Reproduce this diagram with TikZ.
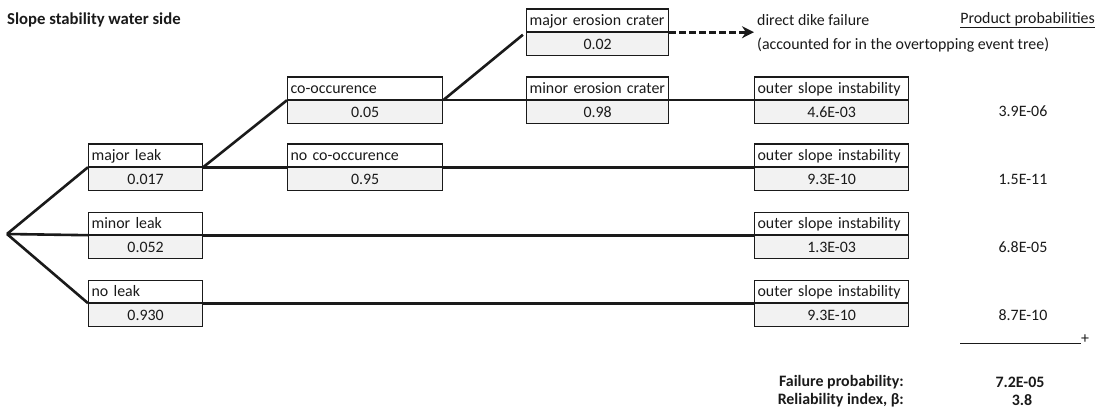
\documentclass[tikz,border=0pt]{standalone}
\usepackage{fontspec}
\setmainfont{Carlito}
\usetikzlibrary{arrows.meta}
\definecolor{cellgray}{HTML}{F2F2F2}
\definecolor{ink}{HTML}{1A1A1A}
\tikzset{
  txt/.style={font=\fontsize{15.9}{19}\selectfont, inner sep=0pt, text=ink},
  toprow/.style={txt, draw=ink, line width=1.2pt, fill=white, anchor=north west,
    minimum height=22.5pt, inner xsep=3pt, inner ysep=0pt, align=left,
    text height=12pt, text depth=2pt},
  botrow/.style={txt, draw=ink, line width=1.2pt, fill=cellgray, anchor=north west,
    minimum height=22.5pt, inner xsep=3pt, inner ysep=0pt, align=center,
    text height=12pt, text depth=2pt},
  branch/.style={draw=ink, line width=2.6pt},
  dasharrow/.style={draw=ink, line width=3pt, dash pattern=on 7pt off 3pt,
    -{Stealth[length=12pt,width=12pt]}},
  prob/.style={txt},
  boldtxt/.style={txt, font=\fontsize{15.9}{19}\selectfont\bfseries},
}
\newcommand\evbox[6]{%
  \node[toprow, text width=#4] (#1-t) at (#2,#3) {#5};
  \node[botrow, text width=#4] (#1) at (#1-t.south west) {#6};
}
\begin{document}
\begin{tikzpicture}[x=1pt,y=-1pt]
\useasboundingbox[fill=white] (0,0) rectangle (1103,417);

\node[boldtxt, font=\fontsize{16.7}{20}\selectfont\bfseries, anchor=west] (title) at (7,20) {Slope stability water side};

% boxes
\evbox{majorleak}{88}{143.5}{108pt}{major leak}{0.017}
\evbox{minorleak}{88}{211.5}{108pt}{minor leak}{0.052}
\evbox{noleak}{88}{279.5}{108pt}{no leak}{0.930}
\evbox{cooc}{287}{76.5}{149pt}{co-occurence}{0.05}
\evbox{nocooc}{287}{143.5}{149pt}{no co-occurence}{0.95}
\evbox{majero}{526}{8.5}{136pt}{major erosion crater}{0.02}
\evbox{minero}{526}{76.5}{136pt}{minor erosion crater}{0.98}
\evbox{osa}{754}{76.5}{148pt}{outer slope instability}{4.6E-03}
\evbox{osb}{754}{143.5}{148pt}{outer slope instability}{9.3E-10}
\evbox{osc}{754}{211.5}{148pt}{outer slope instability}{1.3E-03}
\evbox{osd}{754}{279.5}{148pt}{outer slope instability}{9.3E-10}

\coordinate (root) at (7,234);

% branches
\draw[branch] (root) -- (majorleak-t.south west);
\draw[branch] (root) -- (minorleak-t.south west);
\draw[branch] (root) -- (noleak-t.south west);
\draw[branch] (majorleak-t.south east) -- (cooc-t.south west);
\draw[branch] (majorleak-t.south east) -- (nocooc-t.south west);
\draw[branch, shorten >=4pt] (cooc-t.south east) -- (majero-t.south west);
\draw[branch] (cooc-t.south east) -- (minero-t.south west);
\draw[branch] (minero-t.south east) -- (osa-t.south west);
\draw[branch] (nocooc-t.south east) -- (osb-t.south west);
\draw[branch] (minorleak-t.south east) -- (osc-t.south west);
\draw[branch] (noleak-t.south east) -- (osd-t.south west);

% direct failure
\node[txt, anchor=west, align=left, font=\fontsize{15.9}{24}\selectfont] (dike) at (757,33)
  {direct dike failure\\(accounted for in the overtopping event tree)};
\draw[dasharrow, shorten >=3pt] (majero-t.south east) -- (dike.west |- majero-t.south east);

% product probabilities
\node[txt, anchor=east] (pphead) at (1095,20) {\underline{Product probabilities}};
\node[prob] (pa) at (1023,111) {3.9E-06};
\node[prob] (pb) at (1023,179) {1.5E-11};
\node[prob] (pc) at (1023,247) {6.8E-05};
\node[prob] (pd) at (1023,315) {8.7E-10};
\coordinate (suml) at (960,343);
\coordinate (sumr) at (1081,343);
\draw[draw=ink, line width=1pt] (suml) -- (sumr);
\node[txt, anchor=west] (plus) at (1081,339) {+};

\node[boldtxt, anchor=east] (fplab) at (904,382) {Failure probability:};
\node[boldtxt] (fpval) at (1020,382) {7.2E-05};
\node[boldtxt, anchor=east] (rilab) at (904,400) {Reliability index, β:};
\node[boldtxt] (rival) at (1022,400) {3.8};
\end{tikzpicture}
\end{document}
